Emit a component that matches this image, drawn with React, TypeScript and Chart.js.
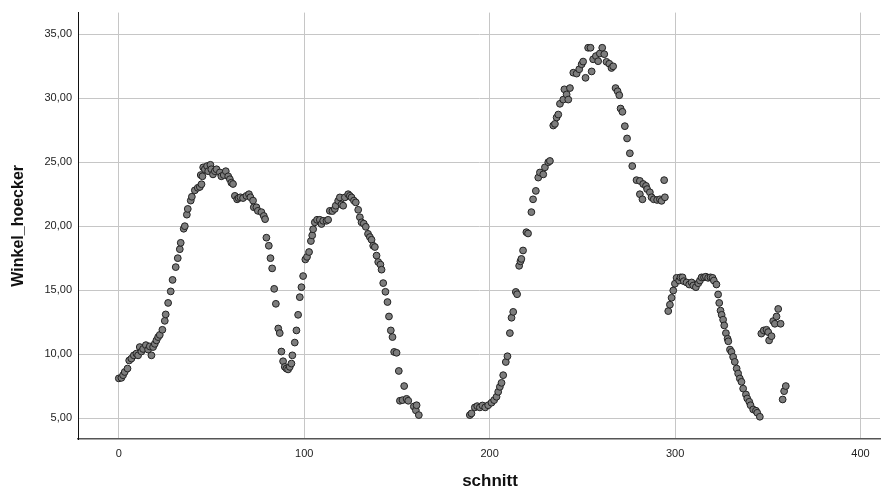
import React, { useEffect, useRef } from "react";
import { Chart, registerables } from "chart.js";

Chart.register(...registerables);

// Segment 1: schnitt 0 – 162
const schnittA = [
  0, 1.4, 2.3, 3.2, 4.7, 5.6, 6.8, 8.1, 9.5, 10.4, 11.3, 12.2, 13.1, 14.6, 15.8, 16.7, 17.6, 18.5, 19.4, 20.3,
  21.2, 22.1, 23.5, 24.8, 25.3, 26.6, 28, 29, 30.7, 31.8, 32.9, 33.4, 35, 35.6, 36.7, 37.2, 38.8, 39.4, 41, 42.6,
  43.7, 44.2, 44.6, 45.1, 45.5, 46.4, 47.6, 48.2, 49.4, 49.9, 50.8, 51.8, 52.7, 54.5, 55.3, 56.6, 57.7, 59, 59.9, 60.7,
  61.6, 62.6, 63.8, 64.6, 65.6, 67, 68.8, 70.2, 71, 72.4, 72.8, 74.2, 75, 76.9, 78.2, 78.9, 79.6, 80.9, 81.8, 82.7,
  83.8, 84.7, 86, 86.8, 87.7, 88.6, 89.5, 90.4, 91.3, 92.2, 93.1, 93.6, 94.9, 95.8, 96.7, 97.6, 98.5, 99.4, 100.6, 101.5,
  102.6, 103.6, 104.3, 104.8, 105.7, 106.9, 108.4, 109.3, 110.2, 112, 112.9, 113.8, 115.2, 116.5, 117, 118.3, 119.2, 120.1, 121, 121.9,
  123.7, 124.6, 125.5, 126.8, 127.8, 129.1, 130, 130.9, 132.1, 133.2, 134.4, 135.4, 136.3, 137.2, 138.1, 139, 139.9, 141.1, 141.7, 142.6,
  143.8, 144.9, 145.7, 146.7, 147.6, 148.5, 149.8, 151, 151.6, 153, 153.9, 155.2, 156.1, 159.1, 160.2, 160.6, 161.8,
];
const winkelA = [
  8.1, 8.14, 8.35, 8.6, 8.87, 9.5, 9.65, 9.9, 10.04, 9.9, 10.55, 10.2, 10.4, 10.7, 10.35, 10.6, 9.9, 10.55, 10.8, 11.07,
  11.33, 11.5, 11.9, 12.6, 13.1, 14.0, 14.9, 15.8, 16.8, 17.5, 18.2, 18.7, 19.8, 20.0, 20.9, 21.35, 22.0, 22.3, 22.8, 23.0,
  23.07, 24.0, 23.28, 23.9, 24.6, 24.45, 24.7, 24.3, 24.8, 24.45, 24.05, 24.3, 24.45, 24.2, 23.9, 24.0, 24.3, 23.9, 23.67, 23.4,
  23.3, 22.37, 22.1, 22.2, 22.26, 22.2, 22.37, 22.5, 22.26, 22.0, 21.48, 21.48, 21.2, 21.1, 20.8, 20.55, 19.1, 18.47, 17.5, 16.7,
  15.1, 13.93, 12.0, 11.64, 10.2, 9.44, 9.0, 8.87, 8.8, 9.0, 9.26, 9.9, 10.9, 11.85, 13.07, 14.45, 15.23, 16.1, 17.4, 17.6,
  17.98, 18.84, 19.28, 19.76, 20.3, 20.5, 20.5, 20.17, 20.42, 20.42, 20.5, 21.2, 21.18, 21.35, 21.6, 21.98, 22.25, 21.7, 21.6, 22.25,
  22.5, 22.37, 22.25, 22.0, 21.86, 21.28, 20.7, 20.3, 20.2, 19.95, 19.4, 19.15, 18.94, 18.47, 18.37, 17.7, 17.2, 17.0, 16.6, 15.55,
  14.87, 14.07, 12.94, 11.85, 11.33, 10.17, 10.1, 8.68, 6.35, 6.4, 7.5, 6.5, 6.35, 5.9, 5.6, 6.0, 5.23,
];

// Segment 2: schnitt 189 – 360
const schnittB = [
  189.3, 190.2, 192, 193.3, 194.7, 196.1, 197.6, 199.2, 201, 202.4, 203.7, 204.6, 205.5, 206.4, 207.3, 208.7, 209.6, 210.9, 211.8, 212.7,
  214.1, 214.8, 215.9, 216.6, 217.1, 218, 219.8, 220.7, 222.5, 223.4, 224.9, 226.2, 227.1, 228.9, 229.8, 231.6, 232.5, 234.3, 235.2, 236.1,
  237, 237.9, 239.7, 240.3, 241.5, 242.4, 243.3, 245.1, 246.9, 248.3, 249.6, 250.4, 251.7, 253.1, 254.4, 255, 255.8, 257.3, 258.5, 259.4,
  260.7, 261.8, 263, 264.5, 265.7, 266.6, 267.9, 269, 269.9, 270.6, 271.6, 272.9, 274.1, 275.6, 276.9, 279.2, 281, 281, 282.4, 282.8,
  284.3, 284.9, 286.4, 287.3, 288.5, 290.3, 291.8, 292.7, 294.1, 294.5, 296.3, 297.2, 298.1, 299, 299.9, 300.8, 302.2, 302.9, 304, 304.7,
  306.2, 307.6, 308.9, 309.8, 311.2, 312.5, 313.4, 314.3, 315.6, 316.6, 317.8, 319.1, 320.2, 320.9, 322.3, 323.2, 323.8, 324.5, 325.1, 325.9,
  326.5, 327.4, 328.3, 328.7, 329.6, 330.4, 331.3, 332.2, 333.2, 334, 334.9, 335.8, 336.7, 338.2, 338.9, 340, 340.7, 342.1, 343.6, 344.3,
  345.7, 346.5, 347.8, 349.3, 350.2, 350.7, 352, 352.9, 353.8, 354.7, 355.6, 356.9, 358, 358.8, 359.7,
];
const winkelB = [
  5.23, 5.36, 5.83, 5.93, 5.83, 5.98, 5.83, 6.0, 6.2, 6.4, 6.66, 7.05, 7.44, 7.75, 8.35, 9.38, 9.83, 11.64, 12.84, 13.3,
  14.86, 14.68, 16.9, 17.25, 17.44, 18.1, 19.53, 19.43, 21.1, 22.1, 22.76, 23.8, 24.2, 24.05, 24.6, 25.0, 25.1, 27.87, 28.0, 28.5,
  28.73, 29.57, 29.9, 30.7, 30.3, 29.9, 30.8, 32.0, 31.93, 32.27, 32.66, 32.87, 31.6, 33.95, 33.95, 32.1, 33.05, 33.3, 32.9, 33.5,
  33.95, 33.45, 32.85, 32.7, 32.37, 32.5, 30.8, 30.55, 30.24, 29.2, 28.94, 27.82, 26.86, 25.7, 24.7, 23.6, 23.54, 22.5, 22.1, 23.3,
  23.15, 22.9, 22.65, 22.26, 22.1, 22.05, 22.1, 21.98, 23.6, 22.26, 13.36, 13.86, 14.4, 14.97, 15.5, 15.96, 15.75, 16.0, 16.0, 15.7,
  15.6, 15.44, 15.6, 15.36, 15.23, 15.54, 15.75, 16.0, 16.0, 16.05, 15.96, 16.0, 15.96, 15.75, 15.44, 14.66, 14.0, 13.4, 13.07, 12.69,
  12.24, 11.64, 11.2, 11.0, 10.35, 10.17, 9.78, 9.39, 8.87, 8.48, 8.09, 7.83, 7.3, 6.84, 6.53, 6.27, 6.0, 5.67, 5.57, 5.41,
  5.1, 11.6, 11.85, 11.9, 11.72, 11.07, 11.4, 12.58, 12.37, 12.94, 13.53, 12.37, 6.45, 7.1, 7.5,
];

const schnitt = [...schnittA, ...schnittB];
const winkelHoecker = [...winkelA, ...winkelB];

const xTicks = [0, 100, 200, 300, 400];
const yTicks = [5, 10, 15, 20, 25, 30, 35];
const xTitle = "schnitt";
const yTitle = "Winkel_hoecker";

const FONT = "'Liberation Sans', Arial, Helvetica, sans-serif";

const axisTitles = {
  id: "axisTitles",
  afterDraw(chart: any) {
    const { ctx, chartArea } = chart;
    ctx.save();
    ctx.fillStyle = "#111111";
    ctx.textAlign = "center";
    ctx.textBaseline = "middle";
    ctx.font = `bold 17px ${FONT}`;
    ctx.fillText(xTitle, (chartArea.left + chartArea.right) / 2 + 11, 481);
    ctx.translate(19, (chartArea.top + chartArea.bottom) / 2);
    ctx.rotate(-Math.PI / 2);
    ctx.font = `bold 16px ${FONT}`;
    ctx.fillText(yTitle, 0, 0);
    ctx.restore();
  },
};

export default function App() {
  const ref = useRef<HTMLCanvasElement>(null);

  useEffect(() => {
    document.body.style.margin = "0";
    const canvas = ref.current;
    if (!canvas) return;
    const chart = new Chart(canvas, {
      type: "scatter",
      data: {
        datasets: [
          {
            data: schnitt.map((x, i) => ({ x, y: winkelHoecker[i] })),
            backgroundColor: "#7d7d7d",
            borderColor: "#222222",
            borderWidth: 1,
            pointRadius: 3.4,
          },
        ],
      },
      options: {
        animation: false,
        responsive: false,
        layout: { padding: { top: 11, right: 10, left: 0, bottom: 0 } },
        plugins: { legend: { display: false }, tooltip: { enabled: false } },
        scales: {
          x: {
            type: "linear",
            min: -22,
            max: 410.5,
            afterBuildTicks: (s: any) => {
              s.ticks = xTicks.map((v) => ({ value: v }));
            },
            afterFit: (s: any) => {
              s.height = 51;
            },
            grid: { color: "#c6c6c6", drawTicks: false, lineWidth: 1 },
            border: { color: "#555555", width: 1.5 },
            ticks: {
              padding: 8,
              font: { family: FONT, size: 11 },
              color: "#222222",
              callback: (v: any) => String(v),
            },
            title: { display: false },
          },
          y: {
            type: "linear",
            min: 3.36,
            max: 36.7,
            afterBuildTicks: (s: any) => {
              s.ticks = yTicks.map((v) => ({ value: v }));
            },
            afterFit: (s: any) => {
              s.width = 78;
            },
            grid: { color: "#c6c6c6", drawTicks: false, lineWidth: 1 },
            border: { color: "#111111", width: 1 },
            ticks: {
              padding: 6,
              font: { family: FONT, size: 11 },
              color: "#222222",
              callback: (v: any) => Number(v).toFixed(2).replace(".", ","),
            },
            title: { display: false },
          },
        },
      },
      plugins: [axisTitles],
    });
    return () => chart.destroy();
  }, []);

  return (
    <div style={{ position: "absolute", left: 0, top: 0, width: 890, height: 490 }}>
      <canvas ref={ref} width={890} height={490} style={{ display: "block" }} />
    </div>
  );
}
